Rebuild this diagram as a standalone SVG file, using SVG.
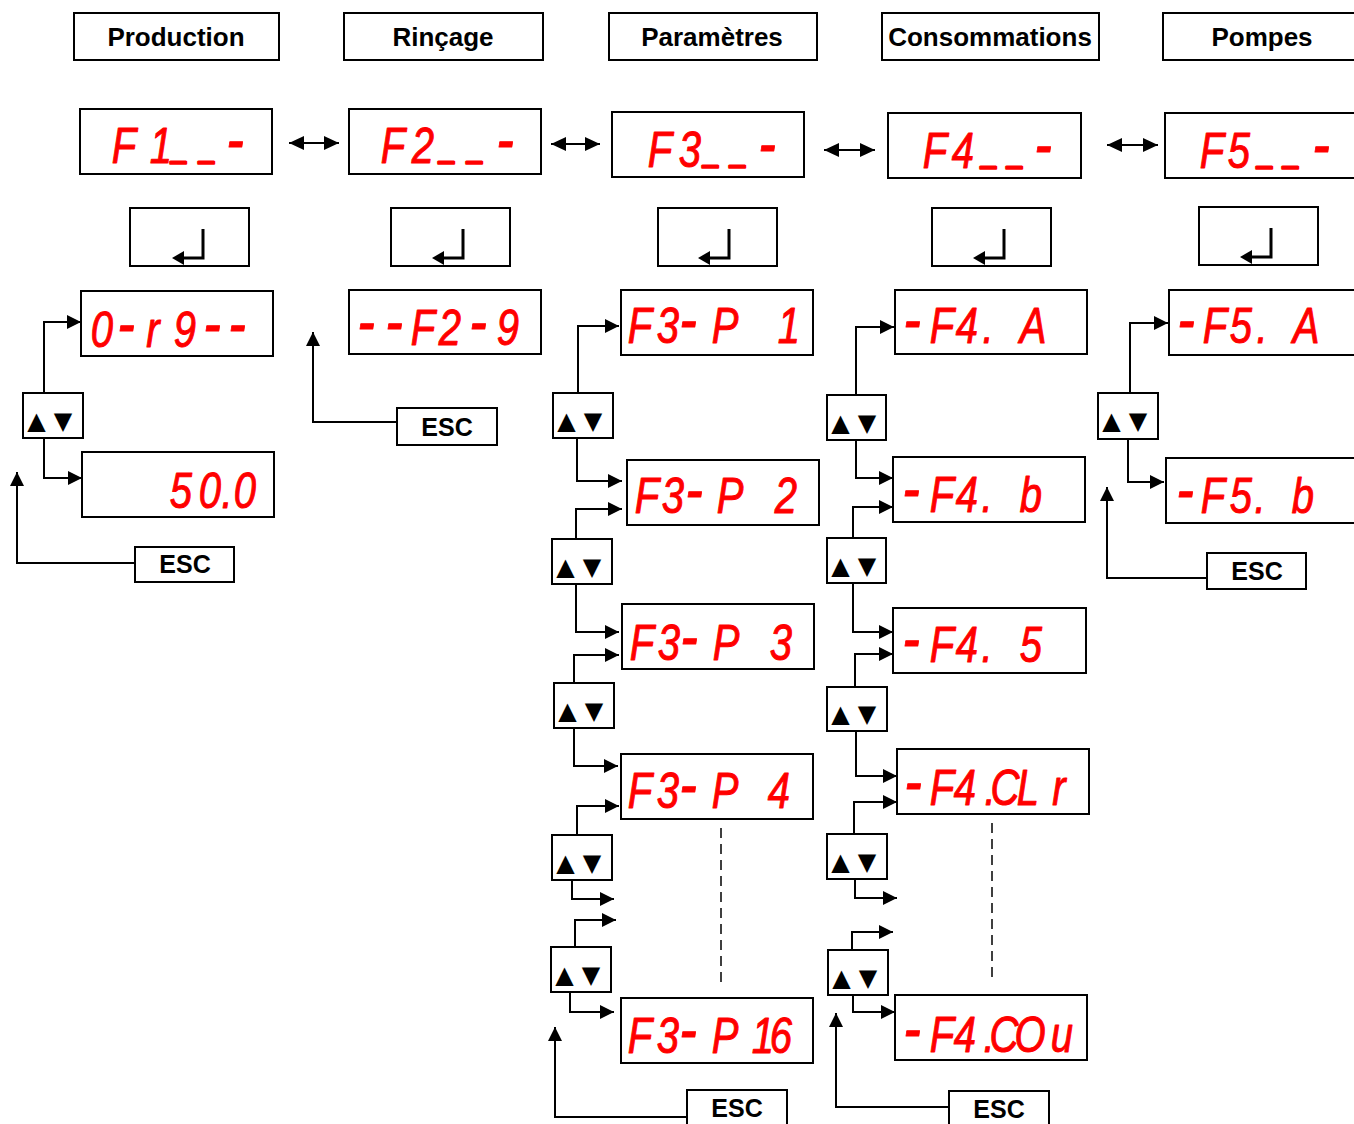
<svg xmlns="http://www.w3.org/2000/svg" width="1354" height="1124" viewBox="0 0 1354 1124">
<defs>
<marker id="ah" markerWidth="14" markerHeight="14" refX="14" refY="7" orient="auto" markerUnits="userSpaceOnUse"><path d="M0,0 L14,7 L0,14 z" fill="#000"/></marker>
<marker id="dh" markerWidth="15" markerHeight="14" refX="15" refY="7" orient="auto-start-reverse" markerUnits="userSpaceOnUse"><path d="M0,0 L15,7 L0,14 z" fill="#000"/></marker>
</defs>
<style>
.box{fill:#fff;stroke:#000;stroke-width:2}
.hd{font-family:"Liberation Sans",Arial,sans-serif;font-weight:bold;font-size:26px;text-anchor:middle;fill:#000}
.esc{font-family:"Liberation Sans",Arial,sans-serif;font-weight:bold;font-size:25px;text-anchor:middle;fill:#000}
.seg{font-family:"Liberation Sans",Arial,sans-serif;font-style:italic;font-size:50px;text-anchor:middle;fill:#ff0000;stroke:#ff0000;stroke-width:1;stroke-linejoin:round}
.us{font-size:34px;stroke-width:3}
.dh{font-size:66px}
.tri{font-family:"DejaVu Sans",sans-serif;font-size:24px;text-anchor:middle;fill:#000}
.ln{fill:none;stroke:#000;stroke-width:2}
.ent{fill:none;stroke:#000;stroke-width:3}
.dash{fill:none;stroke:#000;stroke-width:1.5;stroke-dasharray:10 6}
</style>
<rect width="1354" height="1124" fill="#fff"/>

<g id="headers">
<g id="h-production"><rect class="box" x="74" y="13" width="205" height="47"/><text class="hd" x="176" y="46">Production</text></g>
<g id="h-rincage"><rect class="box" x="344" y="13" width="199" height="47"/><text class="hd" x="443" y="46">Rinçage</text></g>
<g id="h-parametres"><rect class="box" x="609" y="13" width="208" height="47"/><text class="hd" x="712" y="46">Paramètres</text></g>
<g id="h-consommations"><rect class="box" x="882" y="13" width="217" height="47"/><text class="hd" x="990" y="46">Consommations</text></g>
<g id="h-pompes"><rect class="box" x="1163" y="13" width="200" height="47"/><text class="hd" x="1262" y="46">Pompes</text></g>
</g>

<g id="menus">
<g id="f1"><rect class="box" x="80" y="109" width="192" height="65"/><text class="seg" transform="scale(0.8,1)" x="155 201.25 225 260 293.75" y="163 163 159 159 162">F1<tspan class="us">_</tspan><tspan class="us">_</tspan><tspan class="dh">-</tspan></text></g>
<g id="f2"><rect class="box" x="349" y="109" width="192" height="65"/><text class="seg" transform="scale(0.8,1)" x="491.25 528.75 560 595 631.25" y="163 163 159 159 162">F2<tspan class="us">_</tspan><tspan class="us">_</tspan><tspan class="dh">-</tspan></text></g>
<g id="f3"><rect class="box" x="612" y="112" width="192" height="65"/><text class="seg" transform="scale(0.8,1)" x="825 862.5 890 923.75 958.75" y="167 167 163 163 166">F3<tspan class="us">_</tspan><tspan class="us">_</tspan><tspan class="dh">-</tspan></text></g>
<g id="f4"><rect class="box" x="888" y="113" width="193" height="65"/><text class="seg" transform="scale(0.8,1)" x="1168.75 1203.75 1237.5 1270 1303.75" y="168 168 164 164 167">F4<tspan class="us">_</tspan><tspan class="us">_</tspan><tspan class="dh">-</tspan></text></g>
<g id="f5"><rect class="box" x="1165" y="113" width="200" height="65"/><text class="seg" transform="scale(0.8,1)" x="1515 1548.75 1582.5 1615 1651.25" y="168 168 164 164 167">F5<tspan class="us">_</tspan><tspan class="us">_</tspan><tspan class="dh">-</tspan></text></g>
</g>

<g id="enter-keys">
<g id="enter1"><rect class="box" x="130" y="208" width="119" height="58"/><path class="ent" d="M203,229 V258 H182"/><path d="M172,258 L184,251 L184,265 z"/></g>
<g id="enter2"><rect class="box" x="391" y="208" width="119" height="58"/><path class="ent" d="M463,229 V258 H442"/><path d="M432,258 L444,251 L444,265 z"/></g>
<g id="enter3"><rect class="box" x="658" y="208" width="119" height="58"/><path class="ent" d="M729,229 V258 H708"/><path d="M698,258 L710,251 L710,265 z"/></g>
<g id="enter4"><rect class="box" x="932" y="208" width="119" height="58"/><path class="ent" d="M1004,229 V258 H983"/><path d="M973,258 L985,251 L985,265 z"/></g>
<g id="enter5"><rect class="box" x="1199" y="207" width="119" height="58"/><path class="ent" d="M1271,228 V257 H1250"/><path d="M1240,257 L1252,250 L1252,264 z"/></g>
</g>

<g id="displays">
<g id="d-org"><rect class="box" x="81" y="291" width="192" height="65"/><text class="seg" transform="scale(0.8,1)" x="127.5 157.5 191.25 231.25 265 296.25" y="347 346 347 347 346 346">0<tspan class="dh">-</tspan>r9<tspan class="dh">--</tspan></text></g>
<g id="d-500"><rect class="box" x="82" y="452" width="192" height="65"/><text class="seg" transform="scale(0.8,1)" x="226.25 262.5 283.75 306.25" y="508">50.0</text></g>
<g id="d-f29"><rect class="box" x="349" y="290" width="192" height="64"/><text class="seg" transform="scale(0.8,1)" x="457.5 492.5 528.75 562.5 597.5 635" y="344 344 345 345 344 345"><tspan class="dh">--</tspan>F2<tspan class="dh">-</tspan>9</text></g>
<g id="d-p1"><rect class="box" x="621" y="290" width="192" height="65"/><text class="seg" transform="scale(0.8,1)" x="800 835 860 906.25 946.25 986.25" y="343 343 342 343 343 343">F3<tspan class="dh">-</tspan>P 1</text></g>
<g id="d-p2"><rect class="box" x="627" y="460" width="192" height="65"/><text class="seg" transform="scale(0.8,1)" x="808.75 841.25 867.5 912.5 947.5 982.5" y="513 513 512 513 513 513">F3<tspan class="dh">-</tspan>P 2</text></g>
<g id="d-p3"><rect class="box" x="622" y="604" width="192" height="65"/><text class="seg" transform="scale(0.8,1)" x="802.5 836.25 861.25 907.5 942.5 976.25" y="660 660 659 660 660 660">F3<tspan class="dh">-</tspan>P 3</text></g>
<g id="d-p4"><rect class="box" x="621" y="754" width="192" height="65"/><text class="seg" transform="scale(0.8,1)" x="800 835 860 906.25 940 973.75" y="808 808 807 808 808 808">F3<tspan class="dh">-</tspan>P 4</text></g>
<g id="d-p16"><rect class="box" x="621" y="998" width="192" height="65"/><text class="seg" transform="scale(0.8,1)" x="800 835 860 906.25 953.75 976.25" y="1053 1053 1052 1053 1053 1053">F3<tspan class="dh">-</tspan>P16</text></g>
<g id="d-f4a"><rect class="box" x="895" y="290" width="192" height="64"/><text class="seg" transform="scale(0.8,1)" x="1140 1177.5 1208.75 1235 1262.5 1291.25" y="342 343 343 343 343 343"><tspan class="dh">-</tspan>F4. A</text></g>
<g id="d-f4b"><rect class="box" x="893" y="457" width="192" height="65"/><text class="seg" transform="scale(0.8,1)" x="1138.75 1177.5 1208.75 1233.75 1261.25 1288.75" y="511 512 512 512 512 512"><tspan class="dh">-</tspan>F4. b</text></g>
<g id="d-f45"><rect class="box" x="893" y="608" width="193" height="65"/><text class="seg" transform="scale(0.8,1)" x="1138.75 1177.5 1208.75 1233.75 1261.25 1288.75" y="661 662 662 662 662 662"><tspan class="dh">-</tspan>F4. 5</text></g>
<g id="d-f4clr"><rect class="box" x="897" y="749" width="192" height="65"/><text class="seg" transform="scale(0.8,1)" x="1141.25 1177.5 1206.25 1237.5 1256.25 1285 1323.75" y="804 805 805 805 805 805 805"><tspan class="dh">-</tspan>F4.CLr</text></g>
<g id="d-f4cou"><rect class="box" x="895" y="995" width="192" height="65"/><text class="seg" transform="scale(0.8,1)" x="1140 1177.5 1206.25 1236.25 1255 1287.5 1327.5" y="1051 1052 1052 1052 1052 1052 1052"><tspan class="dh">-</tspan>F4.COu</text></g>
<g id="d-f5a"><rect class="box" x="1169" y="290" width="200" height="65"/><text class="seg" transform="scale(0.8,1)" x="1482.5 1518.75 1551.25 1577.5 1605 1632.5" y="342 343 343 343 343 343"><tspan class="dh">-</tspan>F5. A</text></g>
<g id="d-f5b"><rect class="box" x="1166" y="458" width="200" height="65"/><text class="seg" transform="scale(0.8,1)" x="1481.25 1516.25 1551.25 1575 1602.5 1628.75" y="512 513 513 513 513 513"><tspan class="dh">-</tspan>F5. b</text></g>
</g>

<g id="updown-keys">
<g id="ud-prod"><rect class="box" x="23" y="393" width="60" height="45"/><text class="tri" x="36.5 63" y="429">▲▼</text></g>
<g id="ud-p1"><rect class="box" x="553" y="393" width="60" height="45"/><text class="tri" x="566.5 593" y="429">▲▼</text></g>
<g id="ud-p2"><rect class="box" x="552" y="539" width="60" height="45"/><text class="tri" x="565.5 592" y="575">▲▼</text></g>
<g id="ud-p3"><rect class="box" x="554" y="683" width="60" height="45"/><text class="tri" x="567.5 594" y="719">▲▼</text></g>
<g id="ud-p4"><rect class="box" x="552" y="835" width="60" height="45"/><text class="tri" x="565.5 592" y="871">▲▼</text></g>
<g id="ud-p5"><rect class="box" x="551" y="947" width="60" height="45"/><text class="tri" x="564.5 591" y="983">▲▼</text></g>
<g id="ud-c1"><rect class="box" x="827" y="395" width="59" height="45"/><text class="tri" x="840.5 867" y="431">▲▼</text></g>
<g id="ud-c2"><rect class="box" x="827" y="538" width="59" height="45"/><text class="tri" x="840.5 867" y="574">▲▼</text></g>
<g id="ud-c3"><rect class="box" x="827" y="687" width="60" height="44"/><text class="tri" x="840.5 867" y="722">▲▼</text></g>
<g id="ud-c4"><rect class="box" x="827" y="834" width="60" height="45"/><text class="tri" x="840.5 867" y="870">▲▼</text></g>
<g id="ud-c5"><rect class="box" x="828" y="950" width="60" height="45"/><text class="tri" x="841.5 868" y="986">▲▼</text></g>
<g id="ud-pompes"><rect class="box" x="1098" y="393" width="60" height="46"/><text class="tri" x="1111.5 1138" y="429">▲▼</text></g>
</g>

<g id="esc-keys">
<g id="esc-prod"><rect class="box" x="135" y="547" width="99" height="35"/><text class="esc" x="185" y="573">ESC</text></g>
<g id="esc-rinc"><rect class="box" x="397" y="408" width="100" height="37"/><text class="esc" x="447" y="436">ESC</text></g>
<g id="esc-param"><rect class="box" x="687" y="1090" width="100" height="40"/><text class="esc" x="737" y="1117">ESC</text></g>
<g id="esc-cons"><rect class="box" x="949" y="1091" width="100" height="40"/><text class="esc" x="999" y="1118">ESC</text></g>
<g id="esc-pompes"><rect class="box" x="1207" y="553" width="99" height="36"/><text class="esc" x="1257" y="580">ESC</text></g>
</g>

<g id="connectors">
<path class="ln" d="M289,143 H339" marker-start="url(#dh)" marker-end="url(#dh)"/>
<path class="ln" d="M551,144 H600" marker-start="url(#dh)" marker-end="url(#dh)"/>
<path class="ln" d="M824,150 H875" marker-start="url(#dh)" marker-end="url(#dh)"/>
<path class="ln" d="M1107,145 H1158" marker-start="url(#dh)" marker-end="url(#dh)"/>

<path class="ln" d="M44,393 V322 H81" marker-end="url(#ah)"/>
<path class="ln" d="M44,438 V478 H82" marker-end="url(#ah)"/>
<path class="ln" d="M135,563 H17 V472" marker-end="url(#ah)"/>
<path class="ln" d="M397,422 H313 V332" marker-end="url(#ah)"/>

<path class="ln" d="M578,393 V326 H619" marker-end="url(#ah)"/>
<path class="ln" d="M577,438 V481 H622" marker-end="url(#ah)"/>
<path class="ln" d="M576,539 V509 H622" marker-end="url(#ah)"/>
<path class="ln" d="M576,584 V632 H619" marker-end="url(#ah)"/>
<path class="ln" d="M574,683 V655 H619" marker-end="url(#ah)"/>
<path class="ln" d="M574,728 V766 H618" marker-end="url(#ah)"/>
<path class="ln" d="M577,835 V806 H619" marker-end="url(#ah)"/>
<path class="ln" d="M572,880 V899 H614" marker-end="url(#ah)"/>
<path class="ln" d="M575,947 V920 H616" marker-end="url(#ah)"/>
<path class="ln" d="M570,992 V1012 H614" marker-end="url(#ah)"/>
<path class="ln" d="M687,1117 H555 V1027" marker-end="url(#ah)"/>
<path class="dash" d="M721,828 V983"/>

<path class="ln" d="M856,395 V327 H894" marker-end="url(#ah)"/>
<path class="ln" d="M856,440 V478 H893" marker-end="url(#ah)"/>
<path class="ln" d="M853,538 V507 H893" marker-end="url(#ah)"/>
<path class="ln" d="M853,583 V632 H893" marker-end="url(#ah)"/>
<path class="ln" d="M855,687 V654 H893" marker-end="url(#ah)"/>
<path class="ln" d="M856,731 V776 H897" marker-end="url(#ah)"/>
<path class="ln" d="M854,834 V802 H897" marker-end="url(#ah)"/>
<path class="ln" d="M855,879 V898 H897" marker-end="url(#ah)"/>
<path class="ln" d="M852,950 V932 H893" marker-end="url(#ah)"/>
<path class="ln" d="M853,995 V1012 H895" marker-end="url(#ah)"/>
<path class="ln" d="M949,1107 H836 V1013" marker-end="url(#ah)"/>
<path class="dash" d="M992,823 V980"/>

<path class="ln" d="M1130,393 V323 H1168" marker-end="url(#ah)"/>
<path class="ln" d="M1128,439 V482 H1164" marker-end="url(#ah)"/>
<path class="ln" d="M1207,578 H1107 V487" marker-end="url(#ah)"/>
</g>
</svg>
